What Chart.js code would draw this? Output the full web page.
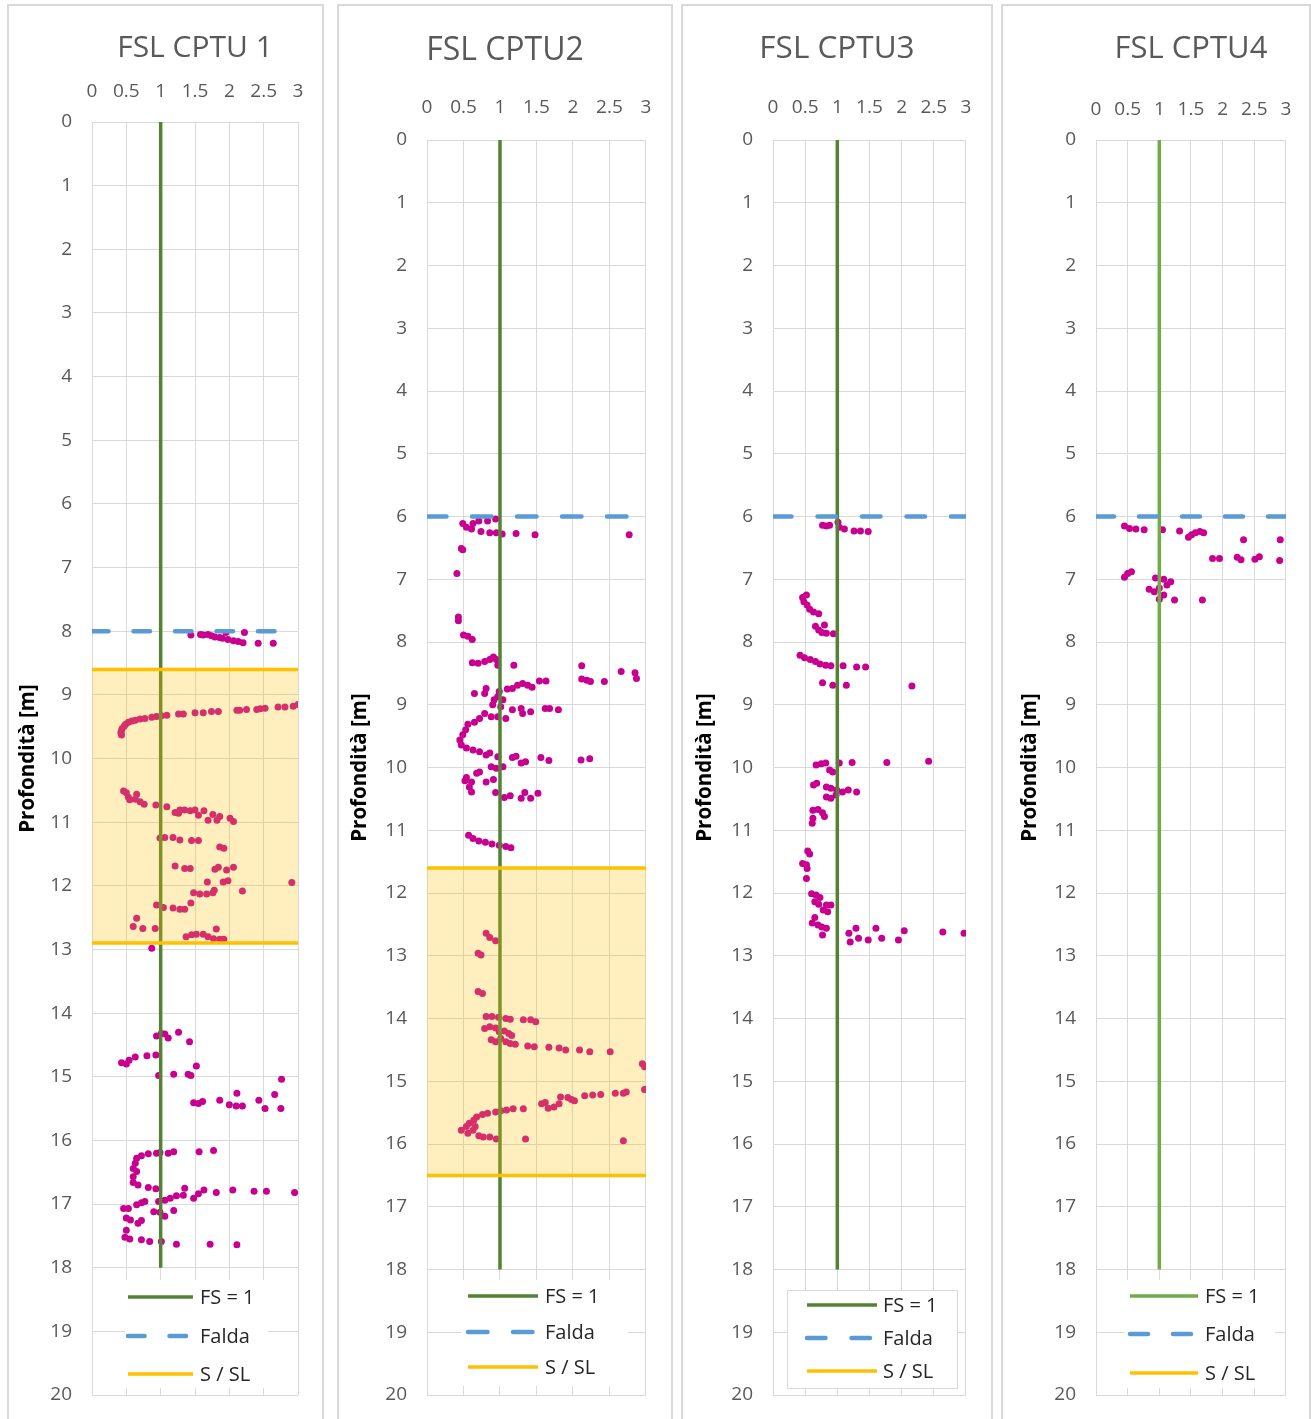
<!DOCTYPE html>
<html>
<head>
<meta charset="utf-8">
<script src="https://cdn.jsdelivr.net/npm/chart.js@4.4.1/dist/chart.umd.min.js"></script>
<style>
  html, body { margin: 0; padding: 0; background: #fff; width: 1311px; height: 1419px; overflow: hidden; }
  .frame { position: absolute; border: 2px solid #d9d9d9; box-sizing: border-box; }
  canvas { position: absolute; }
</style>
</head>
<body>
<script>
// ---- Data ----------------------------------------------------------------
const titles = ['FSL CPTU 1', 'FSL CPTU2', 'FSL CPTU3', 'FSL CPTU4'];
const xTickLabels = ['0', '0.5', '1', '1.5', '2', '2.5', '3'];
const yTickLabels = ['0','1','2','3','4','5','6','7','8','9','10','11','12','13','14','15','16','17','18','19','20'];
const seriesLabels = ['FS = 1', 'Falda', 'S / SL'];

// groundwater depth (m) per test
const faldaDepth = [8, 6, 6, 6];
// liquefiable layer (top, bottom) per test, null = none
const sslTop = [8.6, 11.6, null, null];
const sslBottom = [12.9, 16.5, null, null];
// FS = 1 reference line extends to this depth
const fsLineDepth = [18, 18, 18, 18];

// safety factor vs depth [FS, depth]
const cptu1 = [
  [1.44,8.06],[1.58,8.05],[1.62,8.06],[1.69,8.05],[1.74,8.07],[1.79,8.09],[1.86,8.10],[1.90,8.11],[1.95,8.02],
  [1.98,8.13],[2.06,8.15],[2.13,8.16],[2.20,8.18],[2.22,8.02],[2.42,8.19],[2.64,8.19],
  [3.00,9.15],[2.93,9.18],[2.81,9.19],[2.71,9.19],[2.52,9.21],[2.45,9.22],[2.40,9.23],[2.25,9.23],[2.15,9.24],
  [2.11,9.24],[1.84,9.26],[1.74,9.26],[1.62,9.28],[1.50,9.28],[1.33,9.30],[1.26,9.30],[1.09,9.32],[1.01,9.33],
  [0.94,9.34],[0.87,9.35],[0.77,9.37],[0.70,9.38],[0.63,9.40],[0.58,9.41],[0.53,9.43],[0.49,9.46],[0.47,9.49],
  [0.44,9.53],[0.43,9.56],[0.42,9.59],[0.43,9.63],
  [0.46,10.51],[0.50,10.54],[0.53,10.61],[0.55,10.65],[0.65,10.56],[0.63,10.64],[0.70,10.68],[0.76,10.72],
  [0.93,10.73],[1.09,10.76],[1.21,10.85],[1.26,10.86],[1.28,10.81],[1.35,10.81],[1.43,10.82],[1.50,10.81],
  [1.55,10.89],[1.63,10.82],[1.69,10.97],[1.76,10.88],[1.82,10.97],[1.86,10.91],[2.01,10.94],[2.06,10.99],
  [0.99,11.25],[1.06,11.24],[1.18,11.24],[1.28,11.28],[1.45,11.29],[1.55,11.29],[1.86,11.39],[1.92,11.41],
  [1.21,11.69],[1.35,11.73],[1.43,11.73],[1.79,11.74],[1.84,11.71],[1.96,11.75],[2.06,11.71],
  [1.68,11.94],[1.91,11.94],[1.98,11.92],[2.91,11.95],[2.19,12.08],
  [1.48,12.11],[1.57,12.13],[1.67,12.13],[1.76,12.11],[1.78,12.07],
  [0.94,12.30],[1.04,12.34],[1.18,12.35],[1.28,12.37],[1.35,12.37],[1.44,12.27],
  [0.65,12.51],[0.60,12.64],[0.74,12.67],[0.92,12.67],[1.81,12.68],[1.37,12.80],[1.45,12.77],[1.52,12.76],
  [1.62,12.76],[1.69,12.80],[1.77,12.83],[1.86,12.84],[1.92,12.84],[0.87,12.98],
  [0.94,14.36],[1.01,14.32],[1.06,14.33],[1.11,14.39],[1.26,14.30],[1.42,14.45],
  [0.43,14.78],[0.50,14.80],[0.54,14.74],[0.63,14.69],[0.80,14.67],[0.93,14.66],[1.52,14.83],
  [0.97,14.98],[1.19,14.96],[1.40,14.96],[1.44,14.98],[2.76,15.04],
  [1.48,15.41],[1.55,15.42],[1.61,15.39],[1.86,15.37],[2.00,15.44],[2.10,15.46],[2.11,15.26],[2.19,15.46],
  [2.43,15.37],[2.52,15.50],[2.66,15.28],[2.75,15.50],
  [0.94,16.20],[0.99,16.19],[0.82,16.21],[0.72,16.24],[0.65,16.28],[0.63,16.36],[0.60,16.44],[0.65,16.49],
  [0.60,16.57],[0.60,16.66],[0.67,16.70],[1.11,16.20],[1.19,16.18],[1.56,16.18],[1.77,16.16],
  [0.82,16.74],[0.93,16.76],[0.97,16.96],[1.06,16.94],[1.14,16.91],[1.23,16.87],[1.33,16.86],[1.35,16.75],
  [1.48,16.91],[1.55,16.84],[1.63,16.78],[1.81,16.82],[2.05,16.78],[2.36,16.80],[2.54,16.80],[2.95,16.82],
  [0.46,17.07],[0.53,17.07],[0.65,17.01],[0.72,16.98],[0.77,16.96],[0.90,17.12],[0.99,17.13],[1.06,17.19],
  [1.19,17.10],[0.50,17.22],[0.56,17.25],[0.67,17.30],[0.72,17.26],[0.50,17.41],[0.48,17.52],[0.55,17.55],
  [0.72,17.56],[0.84,17.59],[1.01,17.59],[1.23,17.63],[1.72,17.63],[2.11,17.64]
];
const cptu2 = [
  [0.49,6.11],[0.54,6.17],[0.61,6.20],[0.63,6.11],[0.71,6.07],[0.74,6.24],[0.83,6.07],[0.94,6.04],[0.86,6.26],
  [0.95,6.26],[1.03,6.28],[1.22,6.27],[1.48,6.29],[2.77,6.29],
  [0.47,6.51],[0.49,6.53],[0.41,6.91],[0.43,7.60],[0.43,7.66],[0.50,7.89],[0.56,7.91],[0.62,7.96],
  [0.62,8.33],[0.70,8.34],[0.79,8.31],[0.86,8.28],[0.91,8.24],[0.95,8.28],[0.97,8.37],[1.19,8.37],[2.12,8.38],
  [2.12,8.59],[2.19,8.61],[2.24,8.63],[2.43,8.63],[2.66,8.47],[2.85,8.49],[2.87,8.58],[1.54,8.62],[1.63,8.62],
  [1.44,8.72],[1.38,8.69],[1.31,8.66],[1.24,8.69],[1.17,8.74],[1.10,8.75],[0.99,8.79],[0.97,8.87],[0.81,8.74],
  [0.79,8.82],[0.65,8.82],[0.92,8.92],[1.04,8.92],[0.90,9.00],[1.01,9.03],[1.17,9.08],[1.29,9.06],[1.31,9.14],
  [1.42,9.11],[1.62,9.06],[1.68,9.06],[1.80,9.08],[1.08,9.22],[0.97,9.19],[0.88,9.19],[0.79,9.14],[0.72,9.22],
  [0.65,9.28],[0.56,9.31],[0.53,9.40],[0.49,9.48],[0.45,9.56],[0.47,9.64],[0.54,9.69],[0.63,9.72],[0.72,9.75],
  [0.81,9.80],[0.86,9.77],[0.97,9.83],[1.17,9.84],[1.22,9.82],[1.29,9.93],[1.35,9.91],[1.56,9.84],[1.67,9.89],
  [2.11,9.88],[2.23,9.86],
  [0.88,9.99],[0.95,10.01],[1.04,9.99],[0.54,10.16],[0.52,10.21],[0.61,10.23],[0.68,10.09],[0.72,10.07],
  [0.58,10.31],[0.61,10.39],[0.81,10.23],[0.91,10.19],[0.94,10.40],[1.06,10.48],[1.14,10.45],[1.29,10.49],
  [1.34,10.40],[1.42,10.49],[1.52,10.41],
  [0.57,11.08],[0.63,11.13],[0.71,11.17],[0.80,11.19],[0.89,11.22],[0.99,11.24],[1.08,11.26],[1.15,11.28],
  [0.81,12.64],[0.86,12.71],[0.94,12.76],[0.70,12.96],[0.74,12.99],[0.70,13.57],[0.76,13.60],
  [0.81,13.97],[0.89,13.97],[0.98,13.98],[1.08,14.00],[1.14,14.01],[1.32,14.02],[1.42,14.02],[1.49,14.05],
  [0.79,14.16],[0.86,14.13],[0.94,14.15],[0.99,14.21],[1.06,14.20],[1.12,14.24],[1.16,14.27],[0.88,14.34],
  [0.94,14.37],[1.01,14.32],[1.08,14.37],[1.14,14.40],[1.21,14.41],[1.38,14.44],[1.47,14.45],[1.67,14.46],
  [1.81,14.47],[1.90,14.50],[2.09,14.50],[2.23,14.53],[2.51,14.53],[2.95,14.72],[2.98,14.77],
  [2.98,15.13],[2.73,15.17],[2.69,15.19],[2.58,15.19],[2.38,15.21],[2.27,15.22],[2.16,15.23],[2.02,15.31],
  [1.98,15.29],[1.93,15.26],[1.83,15.25],[1.81,15.36],[1.74,15.41],[1.66,15.43],[1.62,15.34],[1.57,15.36],
  [1.32,15.44],[1.18,15.44],[1.09,15.46],[1.01,15.47],[0.94,15.49],[0.83,15.51],[0.76,15.53],[0.68,15.57],
  [0.64,15.62],[0.58,15.67],[0.54,15.72],[0.47,15.78],[0.56,15.83],[0.63,15.78],[0.66,15.72],[0.71,15.87],
  [0.77,15.89],[0.86,15.89],[0.95,15.92],[1.35,15.92],[2.69,15.95]
];
const cptu3 = [
  [0.77,6.14],[0.83,6.15],[0.88,6.14],[1.01,6.09],[1.03,6.17],[1.11,6.20],[1.26,6.23],[1.36,6.23],[1.48,6.24],
  [0.52,7.25],[0.46,7.29],[0.48,7.36],[0.53,7.41],[0.57,7.48],[0.63,7.52],[0.71,7.55],[0.66,7.75],[0.71,7.81],
  [0.76,7.85],[0.80,7.73],[0.83,7.86],[0.94,7.87],
  [0.42,8.21],[0.49,8.25],[0.58,8.28],[0.66,8.31],[0.73,8.35],[0.82,8.37],[0.90,8.38],[1.09,8.38],[1.30,8.40],
  [1.44,8.40],[0.77,8.65],[0.93,8.69],[1.14,8.69],[2.16,8.70],
  [0.67,9.96],[0.75,9.94],[0.82,9.93],[0.88,10.04],[0.93,10.07],[1.03,9.93],[1.23,9.92],[1.77,9.92],[2.42,9.90],
  [0.63,10.28],[0.68,10.25],[0.83,10.31],[0.90,10.33],[0.99,10.36],[1.08,10.39],[1.17,10.36],[1.30,10.39],
  [0.83,10.47],[0.90,10.49],[0.98,10.44],[0.62,10.68],[0.70,10.67],[0.77,10.72],[0.80,10.78],[0.62,10.81],
  [0.61,10.89],
  [0.54,11.33],[0.57,11.38],[0.46,11.53],[0.52,11.55],[0.53,11.61],[0.52,11.77],
  [0.60,12.01],[0.67,12.03],[0.73,12.07],[0.65,12.14],[0.71,12.18],[0.83,12.19],[0.90,12.19],[0.78,12.27],
  [0.85,12.30],[0.65,12.39],[0.61,12.48],[0.70,12.51],[0.76,12.54],[0.83,12.56],[0.77,12.67],[1.18,12.64],
  [1.29,12.56],[1.20,12.78],[1.33,12.72],[1.48,12.75],[1.60,12.56],[1.69,12.72],[1.95,12.75],[2.04,12.60],
  [2.64,12.62],[2.97,12.64]
];
const cptu4 = [
  [0.45,6.15],[0.53,6.19],[0.63,6.20],[0.76,6.21],[1.05,6.21],[1.32,6.23],[1.46,6.33],[1.51,6.29],[1.57,6.26],
  [1.64,6.24],[1.70,6.26],[2.33,6.37],[2.91,6.37],
  [1.84,6.67],[1.95,6.67],[2.23,6.65],[2.29,6.69],[2.51,6.68],[2.58,6.64],[2.90,6.70],
  [0.45,6.97],[0.50,6.91],[0.56,6.88],[0.94,6.98],[1.07,7.00],[1.18,7.04],[1.12,7.09],[0.84,7.16],[0.92,7.20],
  [1.00,7.14],[1.07,7.25],[1.00,7.32],[1.24,7.33],[1.68,7.33]
];
const cptuPoints = [cptu1, cptu2, cptu3, cptu4];

// ---- Panel layout (page pixels) -----------------------------------------
const TOP = 5, H = 1422, PLOT_BOTTOM = 1395;
const panels = [
  { left: 8,    width: 315, plotL: 92,   plotR: 298,  plotT: 122, titleY: 48, titleSize: 30, xLabY: 92,  yTitleX: 28,   titleFull: false,
    fsColor: '#548235', dash: [16.5, 25],
    legend: { box: [33, -115, 143, 108], border: false, line: [36, 101], text: 108, rows: [-98, -59, -21] } },
  { left: 338,  width: 334, plotL: 427,  plotR: 648,  plotT: 140, titleY: 51, titleSize: 32, xLabY: 108, yTitleX: 360,  titleFull: true,
    fsColor: '#548235', dash: [19.5, 25.5],
    legend: { box: [35, -115, 166, 106], border: false, line: [41, 111], text: 118, rows: [-99, -63, -28] } },
  { left: 682,  width: 310, plotL: 773,  plotR: 968,  plotT: 140, titleY: 49, titleSize: 31.5, xLabY: 108, yTitleX: 705,  titleFull: true,
    fsColor: '#548235', dash: [18.5, 26],
    legend: { box: [14, -105, 170, 98], border: true, line: [34, 104], text: 110, rows: [-90, -57, -24] } },
  { left: 1002, width: 308, plotL: 1096, plotR: 1289, plotT: 140, titleY: 49, titleSize: 31, xLabY: 110, yTitleX: 1030, titleFull: false,
    fsColor: '#70AD47', dash: [18, 25],
    legend: { box: [29, -115, 150, 108], border: false, line: [34, 102], text: 109, rows: [-99, -61, -22] } }
];

Chart.defaults.font.family = "'Open Sans', sans-serif";

// Translucent band over the liquefiable layer, painted just before the S/SL lines
const bandPlugin = {
  id: 'sslBand',
  beforeDatasetDraw(chart, args, opts) {
    if (args.index !== 1 || opts.top == null) return;
    const { ctx, scales: { x, y } } = chart;
    const y0 = y.getPixelForValue(opts.top), y1 = y.getPixelForValue(opts.bottom);
    const x0 = x.getPixelForValue(0), x1 = x.getPixelForValue(3);
    ctx.save();
    ctx.fillStyle = opts.color;
    ctx.fillRect(x0, y0, x1 - x0, y1 - y0);
    ctx.restore();
  }
};

// Legend drawn inside the plot area, bottom
const panelLegend = {
  id: 'panelLegend',
  afterDraw(chart, args, o) {
    const { ctx, chartArea: ca } = chart;
    const ds = chart.data.datasets;
    const bx = ca.left + o.box[0], by = ca.bottom + o.box[1];
    ctx.save();
    ctx.fillStyle = '#fff';
    ctx.fillRect(bx, by, o.box[2], o.box[3]);
    if (o.border) {
      ctx.strokeStyle = '#d9d9d9';
      ctx.lineWidth = 1;
      ctx.strokeRect(Math.round(bx) + 0.5, Math.round(by) + 0.5, o.box[2], o.box[3]);
    }
    o.items.forEach((idx, i) => {
      const d = ds[idx];
      const yy = ca.bottom + o.rows[i];
      ctx.beginPath();
      ctx.strokeStyle = d.borderColor;
      ctx.lineWidth = d.borderWidth;
      ctx.lineCap = d.borderCapStyle || 'butt';
      ctx.setLineDash(d.borderDash || []);
      ctx.moveTo(ca.left + o.line[0], yy);
      ctx.lineTo(ca.left + o.line[1], yy);
      ctx.stroke();
      ctx.setLineDash([]);
      ctx.fillStyle = '#262626';
      ctx.font = "20px 'Open Sans', sans-serif";
      ctx.textBaseline = 'middle';
      ctx.textAlign = 'left';
      ctx.fillText(seriesLabels[i], ca.left + o.text, yy + 1);
    });
    ctx.restore();
  }
};

panels.forEach((p, k) => {
  const frame = document.createElement('div');
  frame.className = 'frame';
  Object.assign(frame.style, { left: (p.left - 1) + 'px', top: (TOP - 1) + 'px', width: (p.width + 2) + 'px', height: '1440px' });
  document.body.appendChild(frame);

  const cv = document.createElement('canvas');
  cv.width = p.width; cv.height = H;
  Object.assign(cv.style, { left: p.left + 'px', top: TOP + 'px', width: p.width + 'px', height: H + 'px' });
  document.body.appendChild(cv);

  const titleFont = p.titleSize, titleLH = titleFont * 1.2;
  const titlePadTop = (p.titleY - TOP) - titleLH / 2;
  const titleBlock = titlePadTop + titleLH;
  const plotTopRel = p.plotT - TOP;
  const tickFont = 19;
  const xTickPad = p.plotT - p.xLabY - tickFont * 0.6;
  const yTitleFont = 20.5;
  const yTitlePad = (p.yTitleX - p.left) - yTitleFont * 1.2 / 2;
  // margins adjusted below until the plot area sits where it should
  const fit = { right: p.left + p.width - p.plotR, bottom: 32 };

  const hasBand = sslTop[k] != null;
  const ssl = v => hasBand ? [{ x: 0, y: v }, { x: 3, y: v }] : [];

  const chart = new Chart(cv, {
    type: 'scatter',
    data: {
      datasets: [
        { label: seriesLabels[2], data: ssl(sslTop[k]), showLine: true, borderColor: '#FFC000', borderWidth: 3.5,
          pointRadius: 0, borderCapStyle: 'butt' },
        { label: seriesLabels[2], data: ssl(sslBottom[k]), showLine: true, borderColor: '#FFC000', borderWidth: 3.5,
          pointRadius: 0, borderCapStyle: 'butt' },
        { label: seriesLabels[1], data: [{ x: 0, y: faldaDepth[k] }, { x: 3, y: faldaDepth[k] }], showLine: true,
          borderColor: '#5B9BD5', borderWidth: 4.5, borderDash: p.dash, borderCapStyle: 'round', pointRadius: 0 },
        { label: seriesLabels[0], data: [{ x: 1, y: 0 }, { x: 1, y: fsLineDepth[k] }], showLine: true,
          borderColor: p.fsColor, borderWidth: 3.5, pointRadius: 0, borderCapStyle: 'butt' },
        { label: 'FS', data: cptuPoints[k].map(([x, y]) => ({ x, y })), showLine: false,
          pointRadius: 3.5, pointBackgroundColor: '#C8008F', pointBorderColor: '#C8008F', pointBorderWidth: 0 }
      ]
    },
    options: {
      responsive: false,
      animation: false,
      layout: { padding: { left: 0, right: 0, top: 0, bottom: fit.bottom } },
      plugins: {
        legend: { display: false },
        tooltip: { enabled: false },
        title: {
          display: true, text: titles[k], color: '#595959', fullSize: p.titleFull,
          font: { size: titleFont, weight: 'normal' }, padding: { top: titlePadTop, bottom: 0 }
        },
        sslBand: { top: sslTop[k], bottom: sslBottom[k], color: 'rgba(255, 192, 0, 0.25)' },
        panelLegend: Object.assign({ items: [3, 2, 0] }, p.legend)
      },
      scales: {
        x: {
          type: 'linear', position: 'top', min: 0, max: 3,
          afterFit: s => { s.height = plotTopRel - titleBlock; },
          ticks: { stepSize: 0.5, autoSkip: false, maxRotation: 0, minRotation: 0, padding: xTickPad,
                   color: '#595959', font: { size: tickFont },
                   callback: (v) => xTickLabels[Math.round(v * 2)] },
          grid: { color: '#d9d9d9', lineWidth: 1, drawTicks: false },
          border: { color: '#d9d9d9', width: 1 }
        },
        y: {
          type: 'linear', position: 'left', min: 0, max: 20, reverse: true,
          afterFit: s => { s.width = p.plotL - p.left; },
          ticks: { stepSize: 1, autoSkip: false, padding: 20, color: '#595959', font: { size: tickFont },
                   callback: (v) => yTickLabels[Math.round(v)] },
          grid: { color: '#d9d9d9', lineWidth: 1, drawTicks: false },
          border: { color: '#d9d9d9', width: 1 },
          title: { display: true, text: 'Profondità [m]', color: '#000', font: { size: yTitleFont, weight: 'bold' },
                   padding: { top: yTitlePad, bottom: 0 } }
        },
        // empty margin on the right side of the plot
        yRight: {
          type: 'linear', position: 'right', min: 0, max: 20, reverse: true,
          afterFit: s => { s.width = fit.right; },
          ticks: { display: false },
          grid: { display: false, drawOnChartArea: false },
          border: { display: false }
        }
      }
    },
    plugins: [bandPlugin, panelLegend]
  });

  // nudge the right and bottom margins so the plot area lands on its intended edges
  const ca = chart.chartArea;
  const dR = ca.right - (p.plotR - p.left);
  const dB = ca.bottom - (PLOT_BOTTOM - TOP);
  if (Math.abs(dR) > 0.25 || Math.abs(dB) > 0.25) {
    fit.right += dR;
    fit.bottom += dB;
    chart.options.layout.padding.bottom = fit.bottom;
    chart.update();
  }
});
</script>
</body>
</html>
